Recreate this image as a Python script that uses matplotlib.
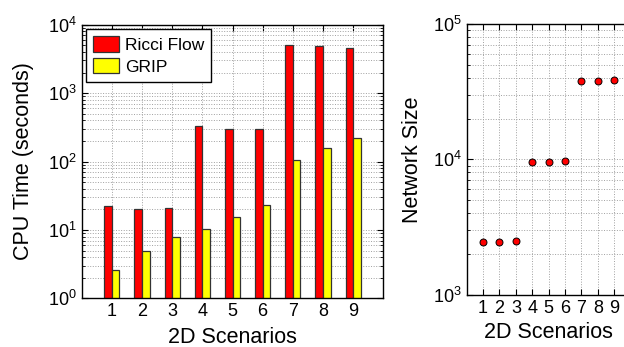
import numpy as np
import matplotlib
matplotlib.use("Agg")
import matplotlib.pyplot as plt
from matplotlib.ticker import LogLocator

plt.rcParams['font.family'] = ['Liberation Sans', 'DejaVu Sans']
plt.rcParams['mathtext.fontset'] = 'custom'
plt.rcParams['mathtext.rm'] = 'Liberation Sans'

scenarios = [1, 2, 3, 4, 5, 6, 7, 8, 9]
ricci_time = [22.5, 20.3, 20.8, 333, 301, 294, 5100, 4830, 4570]
grip_time = [2.6, 5.0, 7.9, 10.2, 15.7, 23, 105, 157, 220]
network_size = [2450, 2450, 2480, 9630, 9550, 9720, 38200, 38200, 38700]

fig = plt.figure(figsize=(6.24, 3.47), dpi=100)

def style(ax):
    ax.tick_params(which='both', direction='in', top=True, right=True, labelsize=13)
    ax.tick_params(which='major', length=4)
    ax.tick_params(which='minor', length=2)
    ax.grid(True, which='major', axis='both', linestyle=':', color='#a0a0a0', lw=0.7)
    ax.grid(True, which='minor', axis='y', linestyle=':', color='#a0a0a0', lw=0.7)
    ax.set_axisbelow(True)
    for s in ax.spines.values():
        s.set_linewidth(1.0)
    ax.xaxis.set_minor_locator(plt.NullLocator())

# left: CPU time bars
ax1 = fig.add_axes([0.1309, 0.1403, 0.4834, 0.7885])
x = np.array(scenarios)
w = 0.25
ax1.bar(x - w/2, ricci_time, w, color='#ff0000', edgecolor='#333333', lw=0.9, label='Ricci Flow')
ax1.bar(x + w/2, grip_time, w, color='#ffff00', edgecolor='#333333', lw=0.9, label='GRIP')
ax1.set_yscale('log')
ax1.set_ylim(1, 1e4)
ax1.set_xlim(0, 10)
ax1.set_xticks(scenarios)
ax1.yaxis.set_minor_locator(LogLocator(base=10, subs=np.arange(2, 10)))
style(ax1)
ax1.set_xlabel('2D Scenarios', fontsize=15.5, labelpad=5)
ax1.set_ylabel('CPU Time (seconds)', fontsize=15.5, labelpad=10)
leg = ax1.legend(loc='upper left', fontsize=12.5, fancybox=False, framealpha=1,
                 edgecolor='black', borderaxespad=0.25, handlelength=1.5,
                 handleheight=1.0, labelspacing=0.3, borderpad=0.4, handletextpad=0.35)
leg.get_frame().set_linewidth(1.0)

# right: network size
ax2 = fig.add_axes([0.7479, 0.1507, 0.2628, 0.7801])
ax2.plot(scenarios, network_size, 'o', color='#ff0000', mec='black', mew=0.7, ms=5)
ax2.set_yscale('log')
ax2.set_ylim(1e3, 1e5)
ax2.set_xlim(0, 10)
ax2.set_xticks(scenarios)
ax2.yaxis.set_minor_locator(LogLocator(base=10, subs=np.arange(2, 10)))
style(ax2)
ax2.set_xlabel('2D Scenarios', fontsize=15.5, labelpad=4)
ax2.set_ylabel('Network Size', fontsize=15.5, labelpad=7)

fig.savefig('out.png', dpi=100)
